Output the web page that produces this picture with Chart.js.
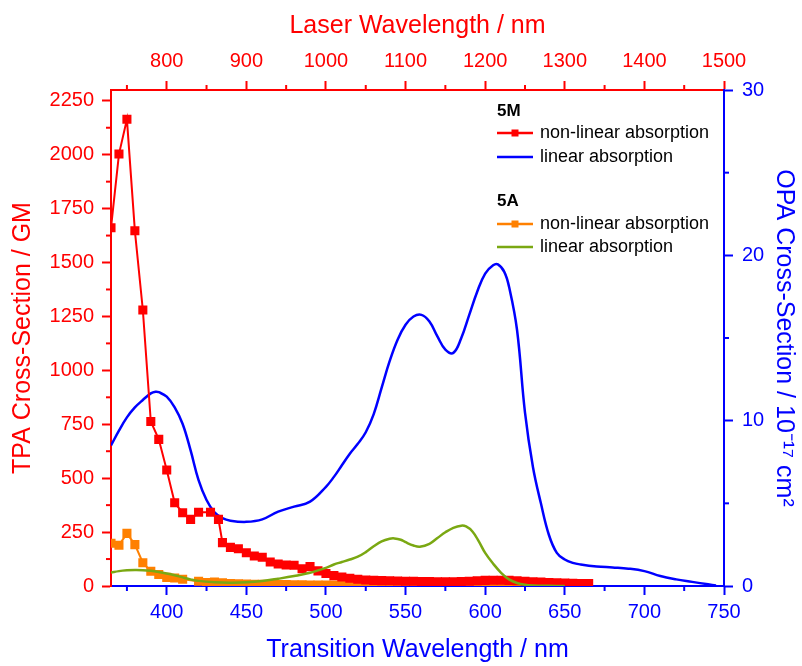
<!DOCTYPE html>
<html>
<head>
<meta charset="utf-8">
<script src="https://cdn.jsdelivr.net/npm/chart.js@4.4.1/dist/chart.umd.min.js"></script>
<style>
  html, body { margin: 0; background: #fff; }
  #wrap { width: 802px; height: 666px; }
</style>
</head>
<body>
<div id="wrap"><canvas id="chart" width="802" height="666"></canvas></div>
<script>
// ---- data ----
// 5M two-photon (TPA, GM) vs transition wavelength (nm)
const wl5M = [365, 370, 375, 380, 385, 390, 395, 400, 405, 410, 415, 420, 427.5, 432.5, 435,
  440, 445, 450, 455, 460, 465, 470, 475, 480, 485, 490, 495, 500, 505, 510, 515, 520, 525,
  530, 535, 540, 545, 550, 555, 560, 565, 570, 575, 580, 585, 590, 595, 600, 605, 610, 615,
  620, 625, 630, 635, 640, 645, 650, 655, 660, 665];
const tpa5M = [1661, 2003, 2164, 1647, 1280, 763, 680, 538, 386, 340, 309, 342, 342, 309, 201,
  179, 173, 154, 139, 133, 111, 102, 97, 96, 80, 90, 70, 58, 48, 42, 36, 31, 28,
  26, 25, 24, 23, 22, 22, 21, 21, 20, 20, 20, 21, 22, 24, 26, 27, 27, 26,
  24, 22, 20, 18, 16, 15, 14, 13, 12, 11];

// 5A two-photon
const wl5A = [365, 370, 375, 380, 385, 390, 395, 400, 405, 410, 420, 425, 430, 435, 440, 445,
  450, 455, 460, 465, 470, 475, 480, 485, 490, 495, 500, 505, 510, 515, 520, 525, 530, 535,
  540, 545, 550, 555, 560, 565, 570, 575, 580, 585, 590, 595, 600, 605, 610, 615, 620];
const tpa5A = [198, 189, 244, 192, 108, 68, 53, 40, 37, 31, 22, 16, 18, 15, 11, 10,
  9, 8, 8, 7, 7, 7, 6, 6, 5, 5, 5, 5, 4, 4, 4, 4, 4, 4,
  3, 3, 3, 3, 3, 3, 3, 3, 3, 3, 3, 3, 2, 2, 2, 2, 2];

// 5M one-photon (OPA, 1e-17 cm^2)
const wlOpa5M = [365, 370, 375, 380, 385, 390, 393, 395, 400, 405, 410, 415, 420, 425, 430,
  435, 440, 450, 460, 470, 480, 490, 500, 505, 510, 515, 520, 525, 530, 535, 540, 545, 550,
  555, 560, 565, 570, 575, 580, 585, 590, 595, 600, 605, 608, 612, 615, 620, 625, 630, 635,
  640, 645, 650, 655, 660, 670, 680, 690, 700, 710, 720, 730, 740, 745];
const opa5M = [8.5, 9.4, 10.2, 10.8, 11.25, 11.65, 11.75, 11.72, 11.45, 10.8, 9.8, 8.2, 6.4, 5.2, 4.45,
  4.1, 3.95, 3.88, 4.03, 4.5, 4.8, 5.1, 6.0, 6.6, 7.3, 8.0, 8.6, 9.3, 10.4, 12.0, 13.6, 14.9, 15.8,
  16.3, 16.4, 16.0, 15.1, 14.3, 14.1, 15.0, 16.4, 17.8, 18.9, 19.4, 19.45, 19.0, 18.1, 15.5, 10.5, 7.2, 5.0,
  3.1, 2.0, 1.6, 1.4, 1.3, 1.18, 1.12, 1.05, 0.9, 0.6, 0.4, 0.25, 0.1, 0.03];

// 5A one-photon
const wlOpa5A = [365, 370, 375, 380, 385, 390, 395, 400, 405, 410, 415, 420, 430, 440, 450, 460,
  470, 480, 490, 500, 505, 510, 515, 520, 525, 530, 535, 540, 543, 547, 550, 555, 559, 565,
  570, 575, 580, 585, 588, 592, 596, 600, 605, 610, 615, 620, 625, 630, 640, 650];
const opa5A = [0.81, 0.9, 0.95, 0.97, 0.96, 0.92, 0.85, 0.76, 0.65, 0.52, 0.4, 0.31, 0.23, 0.2, 0.22, 0.3,
  0.44, 0.6, 0.8, 1.1, 1.3, 1.45, 1.6, 1.77, 2.05, 2.4, 2.7, 2.86, 2.88, 2.8, 2.65, 2.45, 2.38, 2.55,
  2.9, 3.25, 3.52, 3.65, 3.6, 3.3, 2.7, 2.0, 1.35, 0.8, 0.4, 0.18, 0.07, 0.03, 0.01, 0];

// ---- axis ticks ----
const xTicks = [400, 450, 500, 550, 600, 650, 700, 750];
const xMinor = [375, 425, 475, 525, 575, 625, 675, 725];
const x2Ticks = [800, 900, 1000, 1100, 1200, 1300, 1400, 1500];
const x2Minor = [750, 850, 950, 1050, 1150, 1250, 1350, 1450];
const yTicks = [0, 250, 500, 750, 1000, 1250, 1500, 1750, 2000, 2250];
const yMinor = [125, 375, 625, 875, 1125, 1375, 1625, 1875, 2125];
const y2Ticks = [0, 10, 20, 30];
const y2Minor = [5, 15, 25];

const RED = "#ff0000", BLUE = "#0000ff", ORANGE = "#ff8000", GREEN = "#7aa812";
const FONT = "'Liberation Sans', Arial, sans-serif";

const pts = (xs, ys) => xs.map((x, i) => ({ x, y: ys[i] }));

// minor tick marks (shorter than the major ones drawn by the library)
const minorTicks = {
  id: "minorTicks",
  afterDraw(chart) {
    const { ctx, chartArea: ca, scales: s } = chart;
    const len = 5;
    ctx.save();
    ctx.lineWidth = 2;
    ctx.strokeStyle = BLUE;
    xMinor.forEach(v => {
      const px = s.x.getPixelForValue(v);
      ctx.beginPath(); ctx.moveTo(px, ca.bottom); ctx.lineTo(px, ca.bottom + len); ctx.stroke();
    });
    y2Minor.forEach(v => {
      const py = s.y2.getPixelForValue(v);
      ctx.beginPath(); ctx.moveTo(ca.right, py); ctx.lineTo(ca.right + len, py); ctx.stroke();
    });
    ctx.strokeStyle = RED;
    x2Minor.forEach(v => {
      const px = s.x2.getPixelForValue(v);
      ctx.beginPath(); ctx.moveTo(px, ca.top); ctx.lineTo(px, ca.top - len); ctx.stroke();
    });
    yMinor.forEach(v => {
      const py = s.y.getPixelForValue(v);
      ctx.beginPath(); ctx.moveTo(ca.left, py); ctx.lineTo(ca.left - len, py); ctx.stroke();
    });
    ctx.restore();
  },
};

// grouped legend: "5M" / "5A" headers with two entries each
const groupLegend = {
  id: "groupLegend",
  afterDraw(chart) {
    const ctx = chart.ctx;
    const ds = chart.data.datasets;
    const x0 = 497, lineW = 36, textX = 540;
    const rows = [
      { head: "5M", y: 111 }, { ds: 0, y: 133 }, { ds: 1, y: 157 },
      { head: "5A", y: 201 }, { ds: 2, y: 224 }, { ds: 3, y: 247 },
    ];
    ctx.save();
    ctx.textBaseline = "middle";
    rows.forEach(r => {
      if (r.head) {
        ctx.font = "bold 17px " + FONT;
        ctx.fillStyle = "#000";
        ctx.fillText(r.head, x0, r.y);
        return;
      }
      const d = ds[r.ds];
      ctx.strokeStyle = d.borderColor;
      ctx.lineWidth = 2.5;
      ctx.beginPath(); ctx.moveTo(x0, r.y); ctx.lineTo(x0 + lineW, r.y); ctx.stroke();
      if (d.pointRadius > 0) {
        ctx.fillStyle = d.borderColor;
        ctx.fillRect(x0 + lineW / 2 - 3.5, r.y - 3.5, 7, 7);
      }
      ctx.font = "18px " + FONT;
      ctx.fillStyle = "#000";
      ctx.fillText(d.label, textX, r.y);
    });
    ctx.restore();
  },
};

function axisStyle(color, pad) {
  return {
    border: { color, width: 2 },
    grid: { drawOnChartArea: false, drawTicks: true, tickLength: 9, tickColor: color, tickWidth: 2 },
    ticks: { color, font: { family: FONT, size: 20 }, autoSkip: false, maxRotation: 0,
      padding: pad, callback: v => String(v) },
  };
}

new Chart(document.getElementById("chart"), {
  type: "line",
  data: {
    datasets: [
      { label: "non-linear absorption", data: pts(wl5M, tpa5M), xAxisID: "x", yAxisID: "y",
        borderColor: RED, backgroundColor: RED, borderWidth: 2, pointStyle: "rect",
        pointRadius: 5, pointHoverRadius: 5, tension: 0, order: 1 },
      { label: "linear absorption", data: pts(wlOpa5M, opa5M), xAxisID: "x", yAxisID: "y2",
        borderColor: BLUE, borderWidth: 2.5, pointRadius: 0, tension: 0.4, order: 3 },
      { label: "non-linear absorption", data: pts(wl5A, tpa5A), xAxisID: "x", yAxisID: "y",
        borderColor: ORANGE, backgroundColor: ORANGE, borderWidth: 2, pointStyle: "rect",
        pointRadius: 5, pointHoverRadius: 5, tension: 0, order: 2 },
      { label: "linear absorption", data: pts(wlOpa5A, opa5A), xAxisID: "x", yAxisID: "y2",
        borderColor: GREEN, borderWidth: 2.5, pointRadius: 0, tension: 0.4, order: 0 },
    ],
  },
  options: {
    responsive: false, animation: false, devicePixelRatio: 1,
    layout: { padding: 0 },
    plugins: { legend: { display: false }, tooltip: { enabled: false } },
    scales: {
      x: Object.assign(axisStyle(BLUE, 5), {
        type: "linear", position: "bottom", min: 365, max: 750,
        afterBuildTicks: s => { s.ticks = xTicks.map(value => ({ value })); },
        afterFit: s => { s.height = 80; },
        title: { display: true, text: "Transition Wavelength / nm", color: BLUE,
          font: { family: FONT, size: 25 }, padding: { top: 0, bottom: 1 } },
      }),
      x2: Object.assign(axisStyle(RED, 8), {
        type: "linear", position: "top", min: 730, max: 1500,
        afterBuildTicks: s => { s.ticks = x2Ticks.map(value => ({ value })); },
        afterFit: s => { s.height = 90; },
        title: { display: true, text: "Laser Wavelength / nm", color: RED,
          font: { family: FONT, size: 25 }, padding: { top: 11, bottom: 0 } },
      }),
      y: Object.assign(axisStyle(RED, 8), {
        type: "linear", position: "left", min: 0, max: 2300,
        afterBuildTicks: s => { s.ticks = yTicks.map(value => ({ value })); },
        afterFit: s => { s.width = 111; },
        title: { display: true, text: "TPA Cross-Section / GM", color: RED,
          font: { family: FONT, size: 25 }, padding: { top: 8, bottom: 0 } },
      }),
      y2: Object.assign(axisStyle(BLUE, 9), {
        type: "linear", position: "right", min: 0, max: 30,
        afterBuildTicks: s => { s.ticks = y2Ticks.map(value => ({ value })); },
        afterFit: s => { s.width = 78; },
        title: { display: true, text: "OPA Cross-Section / 10\u207B\u00B9\u2077 cm\u00B2", color: BLUE,
          font: { family: FONT, size: 25 }, padding: { top: 3, bottom: 0 } },
      }),
    },
  },
  plugins: [minorTicks, groupLegend],
});
</script>
</body>
</html>
